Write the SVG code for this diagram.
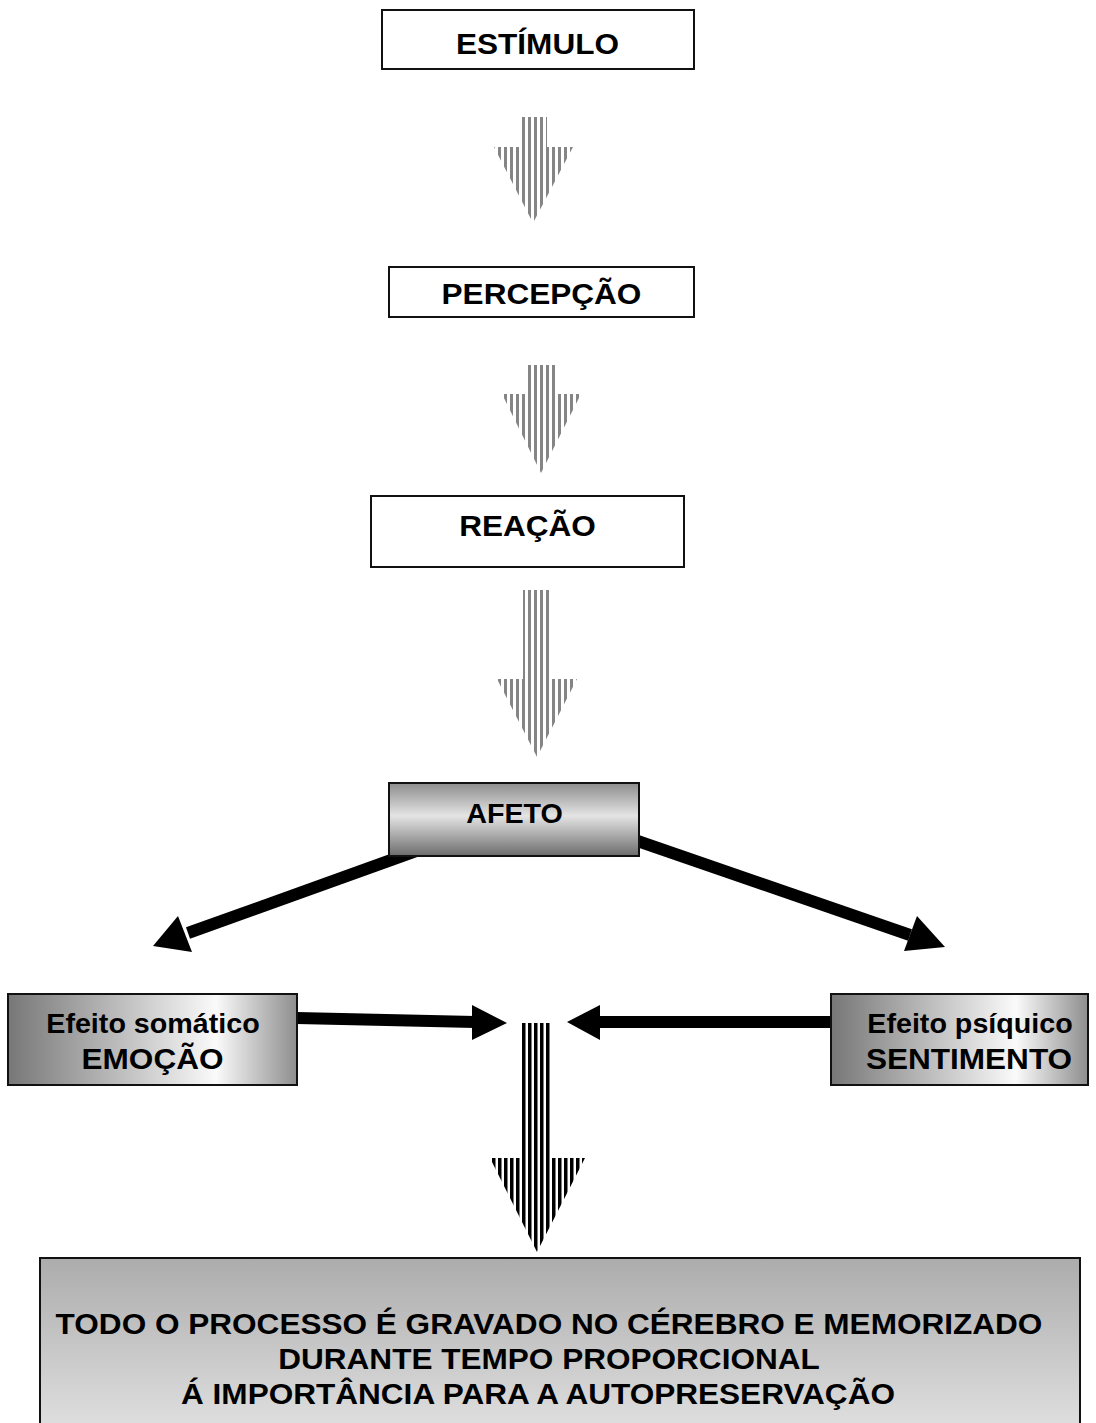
<svg xmlns="http://www.w3.org/2000/svg" width="1096" height="1423" viewBox="0 0 1096 1423">
<style>
.box{stroke:#111;stroke-width:2}
.t{font-family:"Liberation Sans",Arial,sans-serif;font-weight:bold;fill:#000;text-anchor:middle}
.big{font-size:29.5px}
.sm{font-size:26.8px}
.conn{stroke:#000;stroke-width:12;fill:none}
.head{fill:#000}
</style>
<defs>
<pattern id="gs" width="6" height="10" patternUnits="userSpaceOnUse"><rect width="3" height="10" fill="#858585"/></pattern>
<pattern id="bs" width="6" height="10" patternUnits="userSpaceOnUse"><rect width="3.5" height="10" fill="#000"/></pattern>
<linearGradient id="gv" x1="0" y1="0" x2="0" y2="1"><stop offset="0" stop-color="#8c8c8c"/><stop offset="0.45" stop-color="#e4e4e4"/><stop offset="1" stop-color="#6c6c6c"/></linearGradient>
<linearGradient id="gh" x1="0" y1="0" x2="1" y2="0"><stop offset="0" stop-color="#777"/><stop offset="0.72" stop-color="#fafafa"/><stop offset="1" stop-color="#8e8e8e"/></linearGradient>
<linearGradient id="gb" x1="0" y1="0" x2="0" y2="1"><stop offset="0" stop-color="#acacac"/><stop offset="1" stop-color="#e8e8e8"/></linearGradient>
</defs>
<g id="connectors">
<polygon id="a1" fill="url(#gs)" points="521,117 547,117 547,147 573,147 533,223 494,147 521,147"/>
<polygon id="a2" fill="url(#gs)" points="528,365 555,365 555,394 581,394 541,473 502,394 528,394"/>
<polygon id="a3" fill="url(#gs)" points="523,590 550,590 550,679 577,679 537,757 497,679 523,679"/>
<polygon id="a4" fill="url(#bs)" points="520,1023 552,1023 552,1158 585,1158 537,1252 490,1158 520,1158"/>
<line class="conn" x1="480" y1="828" x2="188" y2="933"/>
<polygon class="head" points="153,946 178,916 192,952"/>
<line class="conn" x1="600" y1="828" x2="910" y2="935"/>
<polygon class="head" points="945,947 904,951 917,916"/>
<line class="conn" x1="297" y1="1018" x2="475" y2="1022"/>
<polygon class="head" points="507,1023 472,1005 472,1040"/>
<line class="conn" x1="832" y1="1022" x2="597" y2="1022"/>
<polygon class="head" points="567,1022 600,1005 600,1040"/>
</g>
<g id="estimulo"><rect class="box" x="382" y="10" width="312" height="59" fill="#fff"/><text class="t big" transform="translate(537.5,54) scale(1.07,1)">ESTÍMULO</text></g>
<g id="percepcao"><rect class="box" x="389" y="267" width="305" height="50" fill="#fff"/><text class="t big" transform="translate(541.5,304) scale(1.07,1)">PERCEPÇÃO</text></g>
<g id="reacao"><rect class="box" x="371" y="496" width="313" height="71" fill="#fff"/><text class="t big" transform="translate(527.5,536) scale(1.07,1)">REAÇÃO</text></g>
<g id="afeto"><rect class="box" x="389" y="783" width="250" height="73" fill="url(#gv)"/><text class="t sm" transform="translate(514.5,823) scale(1.07,1)">AFETO</text></g>
<g id="emocao"><rect class="box" x="8" y="994" width="289" height="91" fill="url(#gh)"/><text class="t sm" transform="translate(153,1033) scale(1.07,1)">Efeito somático</text><text class="t big" transform="translate(152.5,1069) scale(1.07,1)">EMOÇÃO</text></g>
<g id="sentimento"><rect class="box" x="831" y="994" width="257" height="91" fill="url(#gh)"/><text class="t sm" transform="translate(970,1033) scale(1.07,1)">Efeito psíquico</text><text class="t big" transform="translate(969,1069) scale(1.07,1)">SENTIMENTO</text></g>
<g id="processo"><rect class="box" x="40" y="1258" width="1040" height="200" fill="url(#gb)"/>
<text class="t big" transform="translate(549,1334) scale(1.07,1)">TODO O PROCESSO É GRAVADO NO CÉREBRO E MEMORIZADO</text>
<text class="t big" transform="translate(549,1369) scale(1.07,1)">DURANTE TEMPO PROPORCIONAL</text>
<text class="t big" transform="translate(538,1404) scale(1.07,1)">Á IMPORTÂNCIA PARA A AUTOPRESERVAÇÃO</text>
</g>
</svg>
